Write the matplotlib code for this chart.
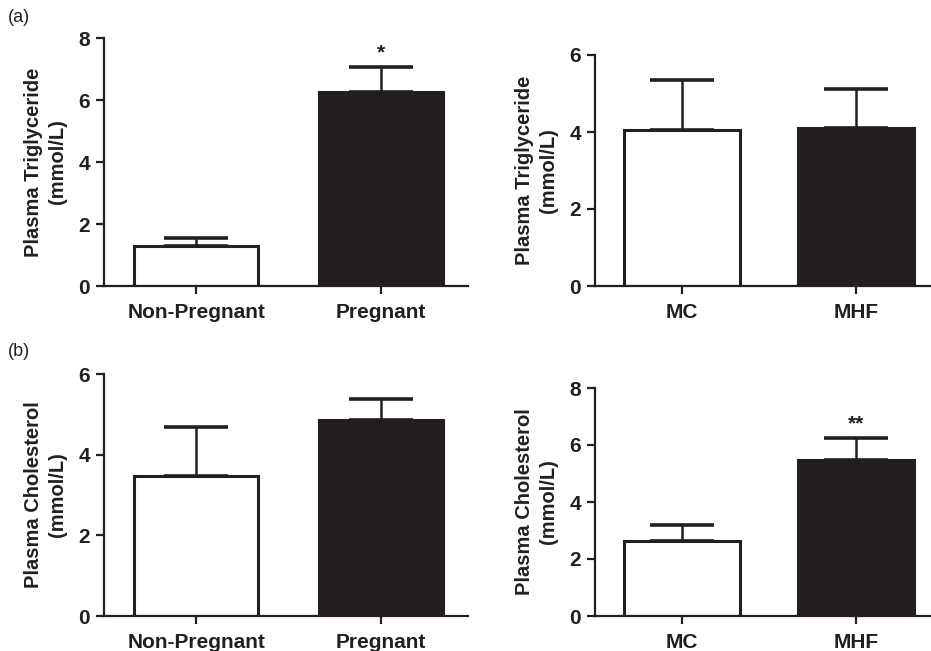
import matplotlib
matplotlib.use("Agg")
import matplotlib.pyplot as plt

plt.rcParams['font.family'] = ['Liberation Sans', 'DejaVu Sans']

# Data
cats_preg = ["Non-Pregnant", "Pregnant"]
cats_diet = ["MC", "MHF"]
tg_preg = [1.30, 6.25]
tg_preg_err = [0.26, 0.80]
tg_diet = [4.05, 4.10]
tg_diet_err = [1.30, 1.01]
chol_preg = [3.47, 4.85]
chol_preg_err = [1.21, 0.53]
chol_diet = [2.63, 5.47]
chol_diet_err = [0.57, 0.79]

W, H = 931, 651
fig = plt.figure(figsize=(W/100, H/100), dpi=100)

def make_ax(x0, x1, ytop, ybot):
    return fig.add_axes([x0/W, (H-ybot)/H, (x1-x0)/W, (ybot-ytop)/H])

panels = [
    (make_ax(104, 468, 38, 286), cats_preg, tg_preg, tg_preg_err, 8, "Plasma Triglyceride\n(mmol/L)", ["", "*"], 1.47),
    (make_ax(595, 931, 55, 286), cats_diet, tg_diet, tg_diet_err, 6, "Plasma Triglyceride\n(mmol/L)", ["", ""], 1.43),
    (make_ax(104, 468, 374, 616), cats_preg, chol_preg, chol_preg_err, 6, "Plasma Cholesterol\n(mmol/L)", ["", ""], 1.47),
    (make_ax(595, 931, 388, 616), cats_diet, chol_diet, chol_diet_err, 8, "Plasma Cholesterol\n(mmol/L)", ["", "**"], 1.43),
]

for ax, cats, vals, errs, ymax, ylabel, sig, xr in panels:
    x = list(range(len(cats)))
    ax.bar(x, vals, width=0.67, color=["white", "#231f20"], edgecolor="#231f20",
           linewidth=2.2, zorder=2)
    ax.errorbar(x, vals, yerr=[[0]*len(errs), errs], fmt="none", ecolor="#231f20",
                elinewidth=1.8, capsize=23, capthick=2.6, zorder=1)
    for xi, v, e, s in zip(x, vals, errs, sig):
        if s:
            ax.text(xi, v + e + ymax*0.02, s, ha="center", va="bottom",
                    fontsize=15, fontweight="bold", color="#231f20")
    ax.set_xlim(-0.5, xr)
    ax.set_ylim(0, ymax)
    ax.set_yticks(range(0, ymax+1, 2))
    ax.set_xticks(x)
    ax.set_xticklabels(cats)
    for side in ["top", "right"]:
        ax.spines[side].set_visible(False)
    for side in ["left", "bottom"]:
        ax.spines[side].set_linewidth(1.6)
        ax.spines[side].set_color("#231f20")
    ax.tick_params(axis="both", width=1.6, length=6, color="#231f20",
                   labelsize=15, labelcolor="#231f20", pad=4)
    ax.tick_params(axis="x", pad=6)
    for lbl in ax.get_xticklabels() + ax.get_yticklabels():
        lbl.set_fontweight("bold")
    ax.set_ylabel(ylabel, fontsize=14.5, fontweight="bold", color="#231f20",
                  linespacing=1.35, labelpad=8)

fig.text(8/W, 1 - 17/H, "(a)", fontsize=13, ha="left", va="center", color="#231f20")
fig.text(8/W, 1 - 352/H, "(b)", fontsize=13, ha="left", va="center", color="#231f20")

fig.savefig("out.png", dpi=100)
